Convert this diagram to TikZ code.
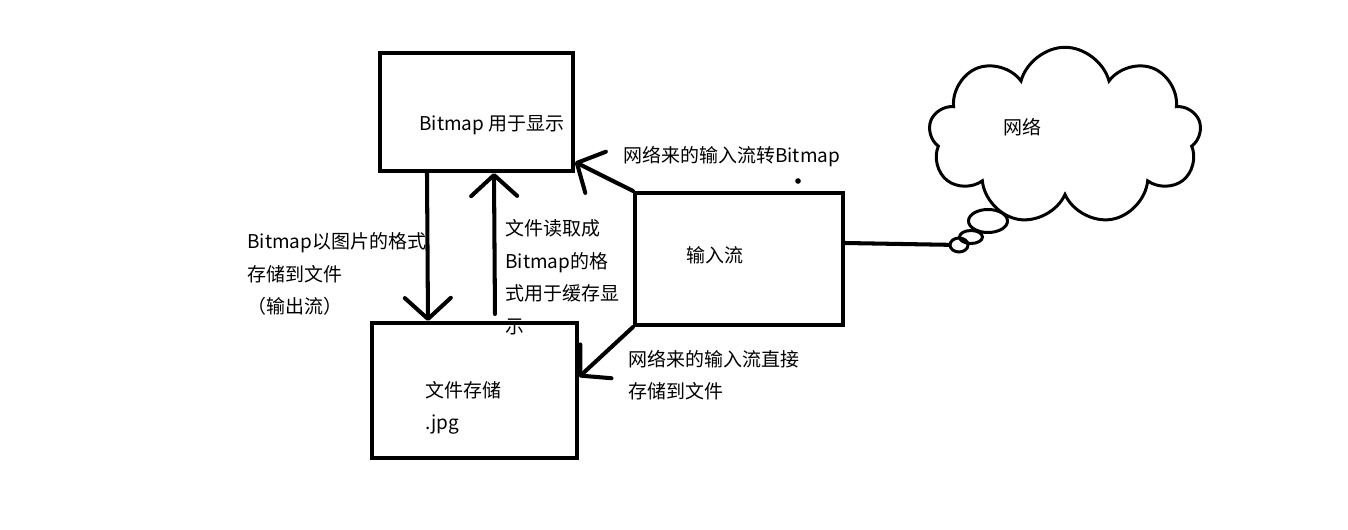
\documentclass[tikz,border=0pt]{standalone}
\usepackage{fontspec}
\setmainfont{Noto Sans CJK SC}
\usetikzlibrary{arrows.meta,shapes.geometric,shapes.symbols}

\begin{document}
\begin{tikzpicture}[x=0.02cm,y=-0.02cm]
\useasboundingbox (0,0) rectangle (1348,530);

\begin{scope}[every node/.style={rectangle,draw,line width=2.3pt,inner sep=0pt}]
    \node (bmp) at (476.5,112) [minimum width=3.86cm,minimum height=2.36cm] {};
    \node (in) at (739,259) [minimum width=4.16cm,minimum height=2.64cm] {};
    \node (file) at (474.5,390.5) [minimum width=4.1cm,minimum height=2.7cm] {};
\end{scope}

\begin{scope}[every node/.style={draw,line width=1.7pt,inner sep=0pt}]
    \node (net) at (1065,136) [cloud,cloud puffs=9,cloud ignores aspect,
        minimum width=5.45cm,minimum height=3.55cm] {};
    \node (b1) at (988,221) [ellipse,fill=white,minimum width=0.78cm,minimum height=0.46cm] {};
    \node (b2) at (971,237) [ellipse,minimum width=0.46cm,minimum height=0.26cm] {};
    \node (b3) at (959,245) [ellipse,minimum width=0.36cm,minimum height=0.28cm] {};
\end{scope}

\begin{scope}[every node/.style={anchor=west,inner sep=0pt,align=left,
              font=\fontsize{10.8pt}{18.5pt}\selectfont}]
    \node (tbmp) at (419,125) {Bitmap 用于显示};
    \node (tin) at (686,255) {输入流};
    \node (tfile) at (425,408) {文件存储\\.jpg};
    \node (tnet) at (1003,127) {网络};
    \node (tsave) at (247,274) {Bitmap以图片的格式\\存储到文件\\（输出流）};
    \node (tread) at (505,277) {文件读取成\\Bitmap的格\\式用于缓存显\\示};
    \node (tconv) at (623,157) {网络来的输入流转Bitmap};
    \node (tdirect) at (628,375) {网络来的输入流直接\\存储到文件};
\end{scope}

\begin{scope}[every edge/.style={draw=black,line width=2.3pt,line cap=round,
              -{Straight Barb[length=0.42cm,width=0.92cm,round]}}]
    \path ([xshift=0.98cm]bmp.south west) edge ([xshift=1.16cm]file.north west);
    \path ([xshift=2.5cm,yshift=0.14cm]file.north west) edge ([xshift=2.32cm]bmp.south west);
    \path (in.north west) edge ([yshift=0.22cm]bmp.south east);
    \path (in.south west) edge ([yshift=0.27cm]file.east);
    \path ([yshift=0.32cm]in.east) edge [-] (b3);
\end{scope}

\fill (798,181) circle (1.6pt);
\end{tikzpicture}
\end{document}
